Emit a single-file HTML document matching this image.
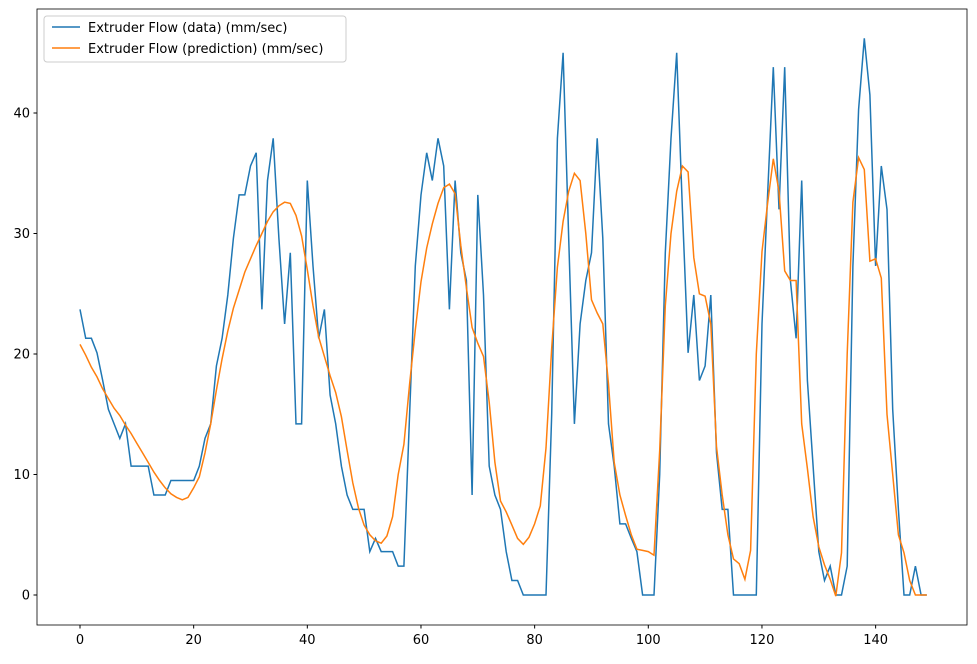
<!DOCTYPE html>
<html><head><meta charset="utf-8"><style>
body{margin:0;background:#fff;font-family:"Liberation Sans","DejaVu Sans",sans-serif}
svg text{font-family:"DejaVu Sans","Liberation Sans",sans-serif;font-size:13px;fill:#000}
</style></head><body>
<svg id="chart" width="977" height="659" xmlns="http://www.w3.org/2000/svg">
<rect x="37" y="9" width="930" height="616" fill="#fff" stroke="#000" stroke-width="0.8"/>
<g id="ticks"></g>
<path id="lineData" fill="none" stroke="#1f77b4" stroke-width="1.5"/>
<path id="linePred" fill="none" stroke="#ff7f0e" stroke-width="1.5"/>
<g>
<rect x="44" y="16" width="302" height="46" rx="3" fill="#fff" fill-opacity="0.8" stroke="#ccc"/>
<line x1="52" y1="27" x2="80" y2="27" stroke="#1f77b4" stroke-width="1.5"/>
<text x="88" y="32">Extruder Flow (data) (mm/sec)</text>
<line x1="52" y1="48" x2="80" y2="48" stroke="#ff7f0e" stroke-width="1.5"/>
<text x="88" y="53">Extruder Flow (prediction) (mm/sec)</text>
</g>
</svg>
<script>
const dataValues=[23.7,21.3,21.3,20.1,17.8,15.4,14.2,13.0,14.2,10.7,10.7,10.7,10.7,8.3,8.3,8.3,9.5,9.5,9.5,9.5,9.5,10.7,13.0,14.2,19.0,21.3,24.9,29.6,33.2,33.2,35.6,36.7,23.7,34.4,37.9,29.6,22.5,28.4,14.2,14.2,34.4,27.3,21.3,23.7,16.6,14.2,10.7,8.3,7.1,7.1,7.1,3.6,4.7,3.6,3.6,3.6,2.4,2.4,15.0,27.3,33.2,36.7,34.4,37.9,35.6,23.7,34.4,28.4,26.1,8.3,33.2,24.9,10.7,8.3,7.1,3.6,1.2,1.2,0,0,0,0,0,15.0,37.9,45.0,29.6,14.2,22.5,26.1,28.4,37.9,29.6,14.2,10.7,5.9,5.9,4.7,3.6,0,0,0,10.0,28.4,37.9,45.0,32.0,20.1,24.9,17.8,19.0,24.9,11.8,7.1,7.1,0,0,0,0,0,22.5,33.2,43.8,32.0,43.8,26.1,21.3,34.4,17.8,10.7,3.6,1.2,2.4,0,0,2.4,27.3,40.3,46.2,41.5,27.3,35.6,32.0,15.4,7.1,0,0,2.4,0,0];
const predValues=[20.8,19.9,18.9,18.1,17.1,16.3,15.5,14.9,14.1,13.4,12.6,11.8,11.0,10.2,9.5,8.9,8.4,8.1,7.9,8.1,8.9,9.8,11.8,14.2,17.0,19.6,21.9,23.8,25.3,26.8,27.9,29.0,30.0,31.0,31.8,32.3,32.6,32.5,31.5,29.8,27.0,24.0,21.4,19.8,18.2,16.8,14.8,12.0,9.3,7.2,5.8,5.0,4.5,4.3,4.9,6.5,10.0,12.5,17.5,22.0,26.0,28.8,30.8,32.5,33.8,34.1,33.3,29.0,25.5,22.2,20.9,19.8,16.0,11.0,7.8,6.9,5.8,4.7,4.2,4.8,5.9,7.4,12.2,20.5,27.2,31.0,33.5,35.0,34.4,30.0,24.5,23.4,22.5,17.5,11.0,8.3,6.6,5.0,3.8,3.7,3.6,3.3,12.0,24.0,30.0,33.5,35.6,35.1,28.0,25.0,24.8,22.5,12.3,8.3,5.0,3.0,2.6,1.3,3.7,20.0,28.5,32.5,36.2,33.5,26.9,26.1,26.1,14.2,10.5,6.5,4.0,2.5,1.3,-0.1,3.5,20.0,32.6,36.3,35.3,27.7,27.9,26.3,15.0,10.0,5.0,3.5,1.2,0.0,0.0,0.0];
const xTicks=[0,20,40,60,80,100,120,140];
const yTicks=[0,10,20,30,40];
const X=v=>80+(v)*5.683;
const Y=v=>595-v*12.05;
const NS="http://www.w3.org/2000/svg";
function pathOf(arr){return arr.map((v,i)=>(i?'L':'M')+X(i).toFixed(1)+','+Y(v).toFixed(1)).join('');}
document.getElementById('lineData').setAttribute('d',pathOf(dataValues));
document.getElementById('linePred').setAttribute('d',pathOf(predValues));
const g=document.getElementById('ticks');
xTicks.forEach(t=>{
 const l=document.createElementNS(NS,'line');
 l.setAttribute('x1',X(t));l.setAttribute('x2',X(t));l.setAttribute('y1',625);l.setAttribute('y2',628.5);l.setAttribute('stroke','#000');
 
 
 g.appendChild(l);
 const tx=document.createElementNS(NS,'text');
 tx.setAttribute('x',X(t));tx.setAttribute('y',644);tx.setAttribute('text-anchor','middle');tx.textContent=t;
 
 
 g.appendChild(tx);
});
yTicks.forEach(t=>{
 const l=document.createElementNS(NS,'line');
 l.setAttribute('x1',33.5);l.setAttribute('x2',37);l.setAttribute('y1',Y(t));l.setAttribute('y2',Y(t));l.setAttribute('stroke','#000');
 
 
 g.appendChild(l);
 const tx=document.createElementNS(NS,'text');
 tx.setAttribute('x',30);tx.setAttribute('y',Y(t)+4.5);tx.setAttribute('text-anchor','end');tx.textContent=t;
 
 
 g.appendChild(tx);
});
</script>
</body></html>
